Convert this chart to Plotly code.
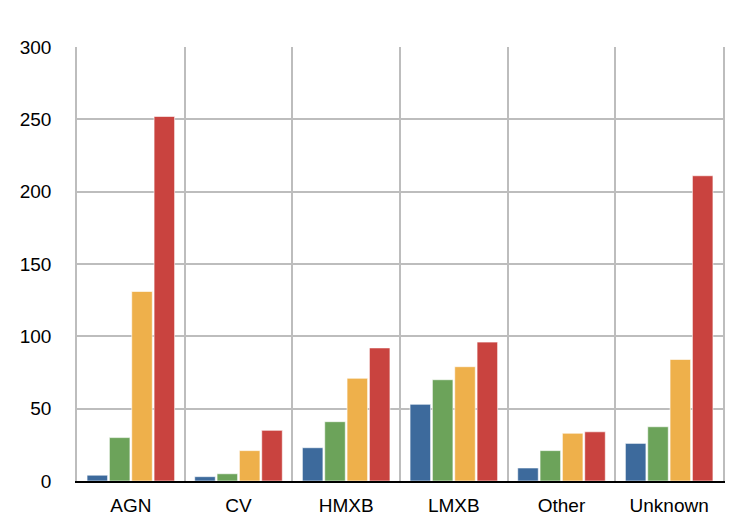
import plotly.graph_objects as go

categories = ['AGN', 'CV', 'HMXB', 'LMXB', 'Other', 'Unknown']
series_names = ['Series 1', 'Series 2', 'Series 3', 'Series 4']
series_1 = [4, 3, 23, 53, 9, 26]
series_2 = [30, 5, 41, 70, 21, 37.5]
series_3 = [131, 21, 71, 79, 33, 84]
series_4 = [252, 35, 92, 96, 34, 211]
colors = ['#3d6a9c', '#6ca35a', '#eeb04b', '#c9433f']

fig = go.Figure()
for name, vals, col in zip(series_names, [series_1, series_2, series_3, series_4], colors):
    fig.add_trace(go.Bar(
        x=categories, y=vals, name=name,
        marker=dict(color=col, line=dict(color='rgba(255,255,255,0.6)', width=1)),
    ))

# page has an 8px body margin, so margins are shifted to land the plot area in place
fig.update_layout(
    width=748, height=524,
    margin=dict(l=65, r=33, t=39, b=51),
    paper_bgcolor='white', plot_bgcolor='white',
    showlegend=False,
    barmode='group', bargap=0.17, bargroupgap=0.08,
    font=dict(family='Liberation Sans, Arial, sans-serif', size=19, color='black'),
)
fig.update_xaxes(
    tickson='boundaries', showgrid=True, gridcolor='#bdbdbd', gridwidth=1.5,
    showline=True, linecolor='black', linewidth=1.5,
    ticks='', ticklabelstandoff=6, range=[-0.5, 5.5],
)
fig.update_yaxes(
    range=[0, 300], tickvals=[0, 50, 100, 150, 200, 250, 300],
    showgrid=True, gridcolor='#bdbdbd', gridwidth=1.5,
    showline=True, linecolor='#bdbdbd', linewidth=1.5, mirror=True,
    zeroline=False, ticks='', ticklabelstandoff=20,
)

fig.write_html('out.html')
